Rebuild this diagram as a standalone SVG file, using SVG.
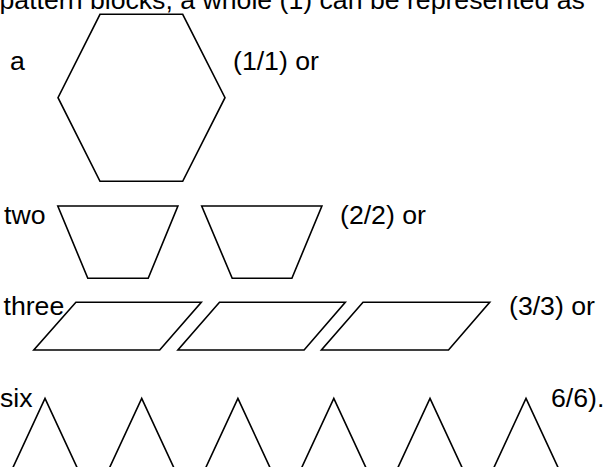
<svg xmlns="http://www.w3.org/2000/svg" width="603" height="467" viewBox="0 0 603 467">
<style>
text{font-family:"Liberation Sans",Arial,sans-serif;font-size:26.67px;fill:#000}
.s{fill:none;stroke:#000;stroke-width:1.6;stroke-linejoin:miter}
</style>
<rect width="603" height="467" fill="#fff"/>
<text x="-0.5" y="8.5">pattern blocks, a whole (1) can be represented as</text>
<g id="row1">
<text x="10" y="70">a</text>
<polygon class="s" points="100,14.3 182.7,14.3 225,97.7 182.7,181.3 100,181.3 58,97.7"/>
<text x="233" y="70">(1/1) or</text>
</g>
<g id="row2">
<text x="4" y="223.5">two</text>
<polygon class="s" points="57.8,206 177.9,206 148.2,278.3 87.8,278.3"/>
<polygon class="s" points="201.7,206 321.9,206 291.9,278.3 232.2,278.3"/>
<text x="340" y="223.5">(2/2) or</text>
</g>
<g id="row3">
<text x="3.5" y="314.5">three</text>
<polygon class="s" points="75.9,302.3 201.3,302.3 159.7,350 33.8,350"/>
<polygon class="s" points="219.5,302.3 345.3,302.3 304.1,350 177.9,350"/>
<polygon class="s" points="363,302.3 489.7,302.3 448.5,350 321.4,350"/>
<text x="509" y="314.5">(3/3) or</text>
</g>
<g id="row4">
<text x="0" y="406.5">six</text>
<polygon class="s" points="45,398.3 81,476 9,476"/>
<polygon class="s" points="141.7,398.3 177.7,476 105.7,476"/>
<polygon class="s" points="237.9,398.3 273.9,476 201.9,476"/>
<polygon class="s" points="333.8,398.3 369.8,476 297.8,476"/>
<polygon class="s" points="430,398.3 466,476 394,476"/>
<polygon class="s" points="526,398.3 562,476 490,476"/>
<text x="551" y="406.5">6/6).</text>
</g>
</svg>
